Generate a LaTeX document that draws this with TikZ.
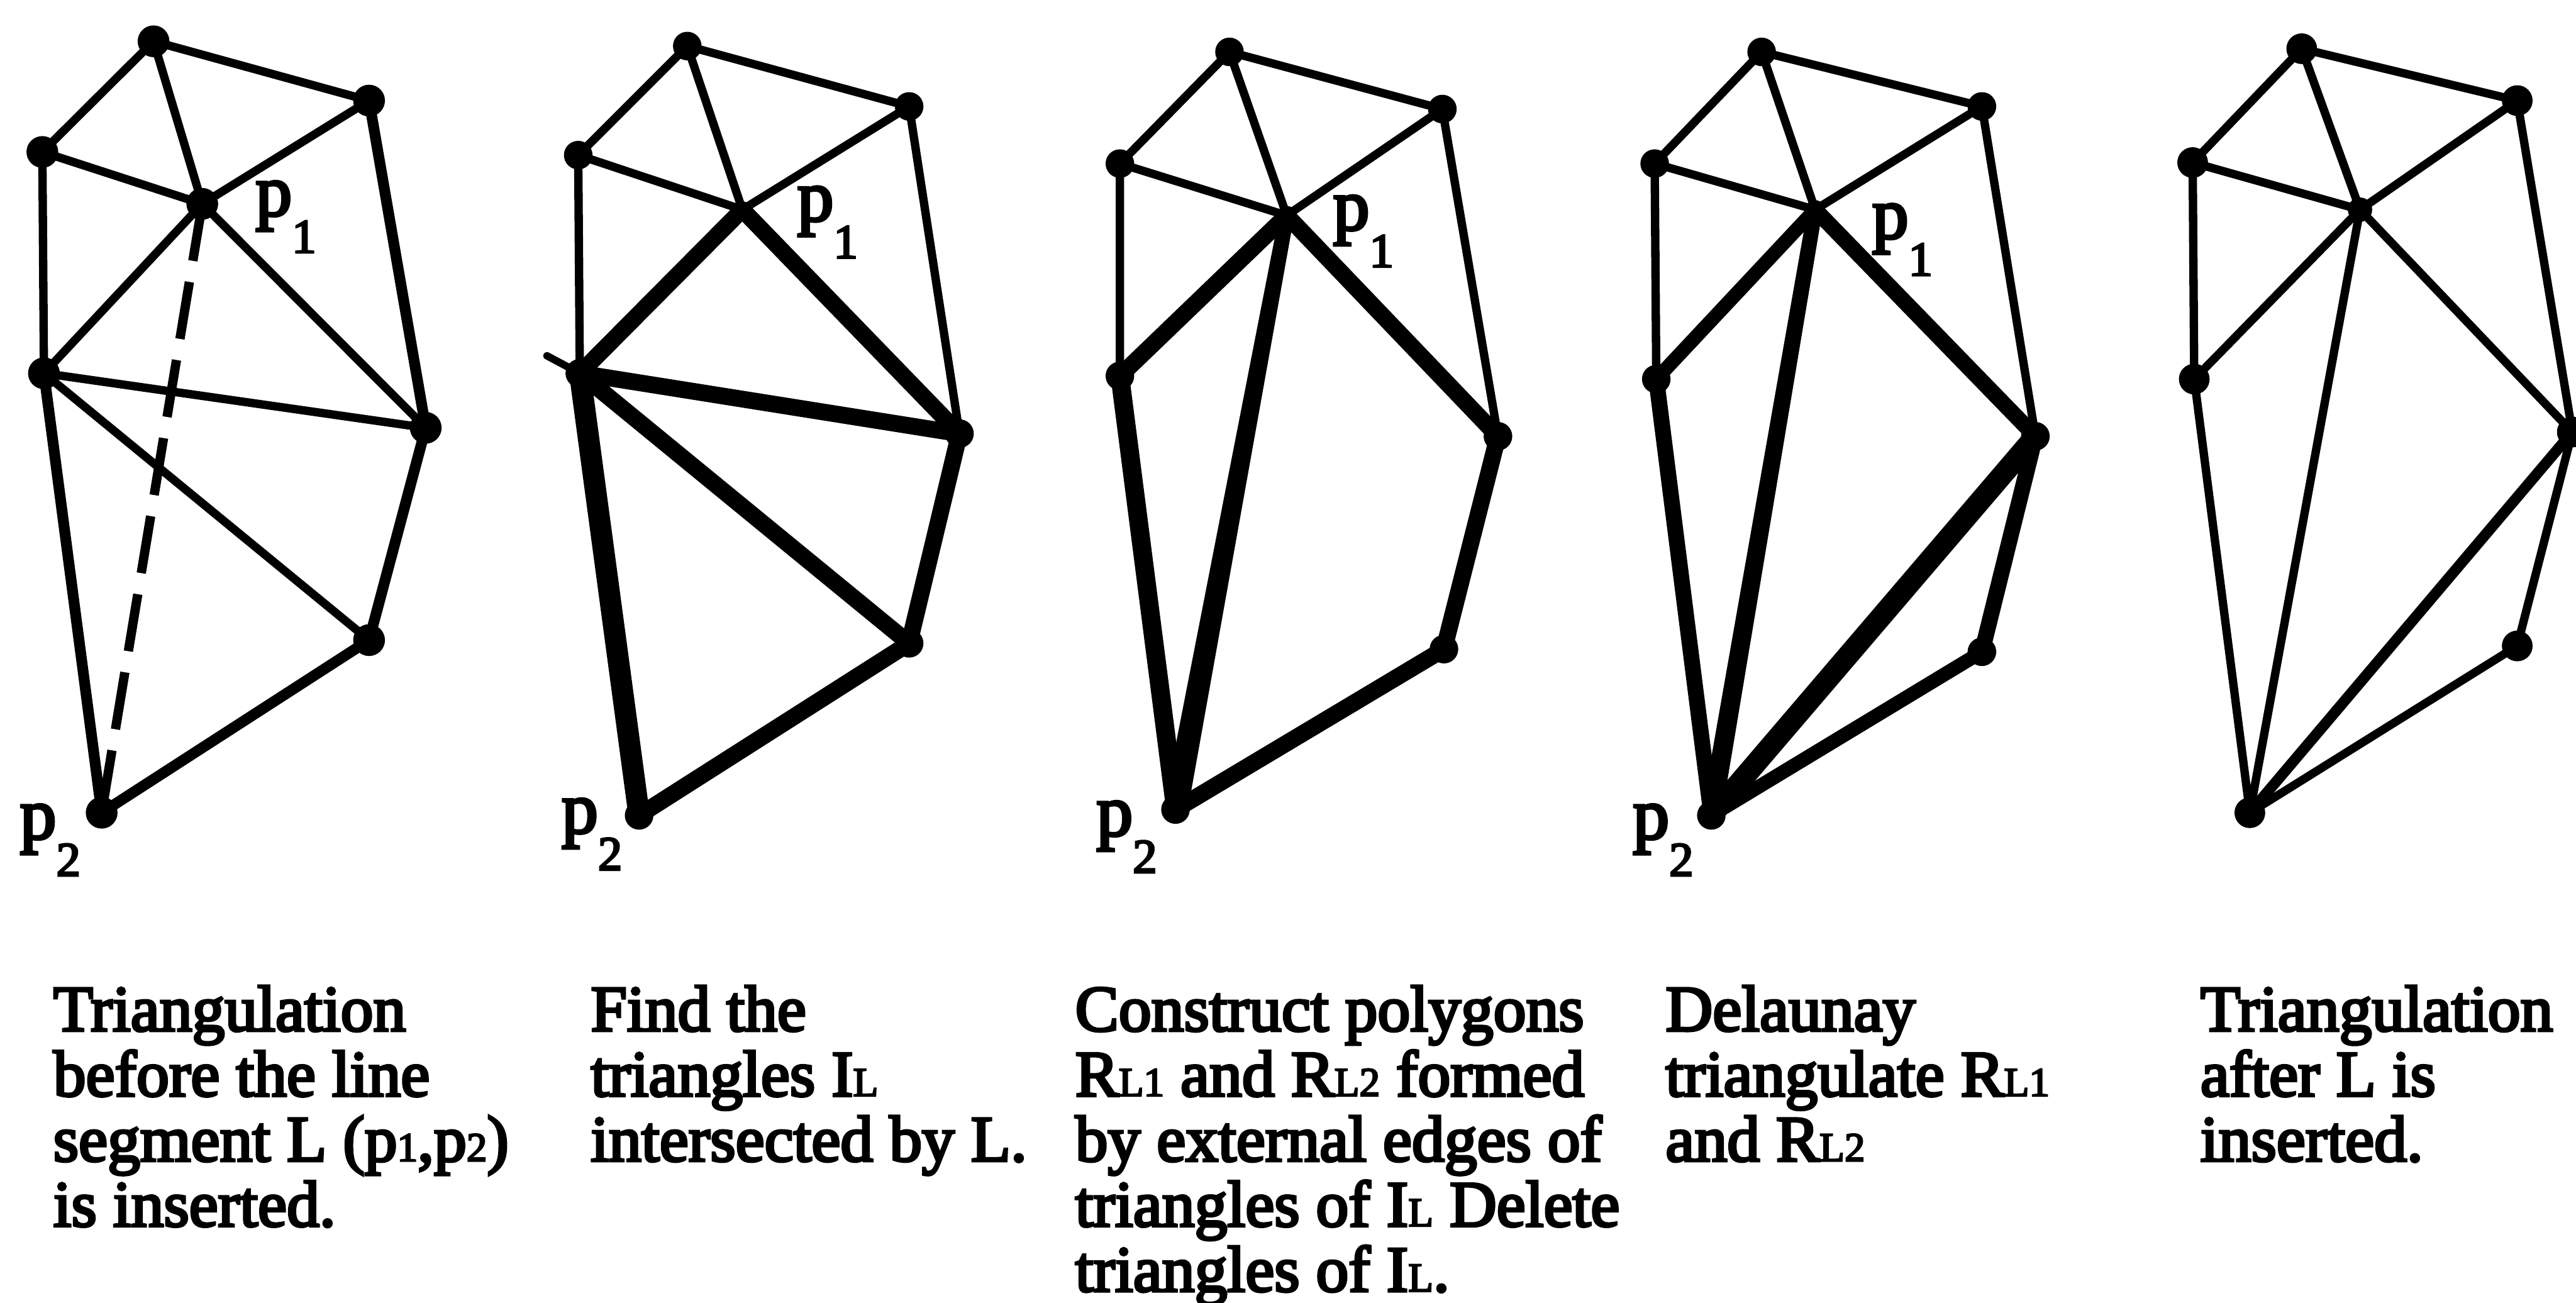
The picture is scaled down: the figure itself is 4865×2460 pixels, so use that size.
\documentclass[tikz,border=0pt]{standalone}
\usepackage{fontspec}
\usetikzlibrary{calc}
\setmainfont{Liberation Serif}
\newfontfamily\capfont{Liberation Serif}[FakeBold=4]
\newcommand\smc[1]{{\fontsize{22pt}{22pt}\selectfont #1}}
\newcommand\plab[2]{#1\raisebox{-20pt}{\fontsize{26pt}{26pt}\selectfont #2}}
\begin{document}
\begin{tikzpicture}[x=0.01cm,y=-0.01cm,
  ethin/.style={line width=4.5pt,line cap=round},
  emed/.style={line width=5.8pt,line cap=round},
  ethick/.style={line width=9pt,line cap=round},
  evthick/.style={line width=11.5pt,line cap=round},
  edash/.style={line width=5pt,dash pattern=on 31pt off 11.5pt},
  captxt/.style={anchor=base west,inner sep=0pt,font=\capfont\fontsize{35pt}{35pt}\selectfont},
  plabel/.style={anchor=base west,inner sep=0pt,font=\capfont\fontsize{39pt}{39pt}\selectfont}]
\useasboundingbox (0,0) rectangle (4865,2460);

% ---------- panel 1 ----------
\coordinate (P1A) at (290,78);
\coordinate (P1B) at (697,190);
\coordinate (P1C) at (80,287);
\coordinate (P1D) at (382,385);
\coordinate (P1E) at (83,705);
\coordinate (P1F) at (804,808);
\coordinate (P1G) at (697,1209);
\coordinate (P1H) at (192,1535);
\draw[ethin] (P1A)--(P1C) (P1A)--(P1B) (P1A)--(P1D) (P1C)--(P1D) (P1B)--(P1D)
  (P1C)--(P1E) (P1D)--(P1E) (P1D)--(P1F) (P1E)--(P1F) (P1E)--(P1G);
\draw[emed] (P1B)--(P1F) (P1F)--(P1G) (P1G)--(P1H) (P1E)--(P1H);
\draw[edash] (P1D)--(P1H);
\foreach \v in {A,B,C,D,E,F,G,H} \fill (P1\v) circle[radius=30];
\node[plabel] (L1p1) at (482,407) {\plab{p}{1}};
\node[plabel] (L1p2) at (37,1584) {\plab{p}{2}};

% ---------- panel 2 ----------
\coordinate (P2A) at (1298,87);
\coordinate (P2B) at (1717,201);
\coordinate (P2C) at (1092,293);
\coordinate (P2D) at (1402,396);
\coordinate (P2E) at (1095,705);
\coordinate (P2F) at (1812,819);
\coordinate (P2G) at (1717,1215);
\coordinate (P2H) at (1207,1540);
\coordinate (P2S) at (1033,672);
\draw[ethin] (P2A)--(P2C) (P2A)--(P2B) (P2A)--(P2D) (P2C)--(P2D) (P2B)--(P2D)
  (P2C)--(P2E) (P2B)--(P2F);
\draw[ethick] (P2D)--(P2E) (P2D)--(P2F) (P2E)--(P2F) (P2E)--(P2G) (P2F)--(P2G) (P2G)--(P2H);
\draw[evthick] (P2E)--(P2H);
\draw[line width=4pt,line cap=round] (P2S)--(P2E);
\foreach \v in {A,B,C,E,F,G,H} \fill (P2\v) circle[radius=27];
\node[plabel] (L2p1) at (1505,417) {\plab{p}{1}};
\node[plabel] (L2p2) at (1060,1573) {\plab{p}{2}};

% ---------- panel 3 ----------
\coordinate (P3A) at (2322,98);
\coordinate (P3B) at (2724,206);
\coordinate (P3C) at (2115,309);
\coordinate (P3D) at (2430,407);
\coordinate (P3E) at (2115,710);
\coordinate (P3F) at (2829,824);
\coordinate (P3G) at (2727,1226);
\coordinate (P3H) at (2220,1529);
\draw[ethin] (P3A)--(P3C) (P3A)--(P3B) (P3A)--(P3D) (P3C)--(P3D) (P3B)--(P3D)
  (P3C)--(P3E) (P3B)--(P3F);
\draw[ethick] (P3D)--(P3E) (P3D)--(P3F) (P3F)--(P3G) (P3G)--(P3H);
\draw[line width=10pt,line cap=round] (P3E)--(P3H);
\fill ($(P3D)!0.14cm!90:(P3H)$) -- ($(P3D)!0.14cm!-90:(P3H)$)
  -- ($(P3H)!0.23cm!90:(P3D)$) -- ($(P3H)!0.23cm!-90:(P3D)$) -- cycle;
\foreach \v in {A,B,C,E,F,G,H} \fill (P3\v) circle[radius=27];
\fill (P3D) circle[radius=18];
\node[plabel] (L3p1) at (2517,434) {\plab{p}{1}};
\node[plabel] (L3p2) at (2070,1578) {\plab{p}{2}};

% ---------- panel 4 ----------
\coordinate (P4A) at (3327,98);
\coordinate (P4B) at (3743,201);
\coordinate (P4C) at (3125,309);
\coordinate (P4D) at (3428,396);
\coordinate (P4E) at (3128,716);
\coordinate (P4F) at (3844,824);
\coordinate (P4G) at (3743,1231);
\coordinate (P4H) at (3232,1540);
\draw[ethin] (P4A)--(P4C) (P4A)--(P4B) (P4A)--(P4D) (P4C)--(P4D) (P4B)--(P4D)
  (P4C)--(P4E) (P4B)--(P4F);
\draw[line width=7.5pt,line cap=round] (P4D)--(P4E) (P4G)--(P4H);
\draw[line width=8.5pt,line cap=round] (P4D)--(P4F) (P4E)--(P4H) (P4F)--(P4G);
\fill ($(P4D)!0.14cm!90:(P4H)$) -- ($(P4D)!0.14cm!-90:(P4H)$)
  -- ($(P4H)!0.19cm!90:(P4D)$) -- ($(P4H)!0.19cm!-90:(P4D)$) -- cycle;
\draw[evthick] (P4F)--(P4H);
\foreach \v in {A,B,C,E,F,G,H} \fill (P4\v) circle[radius=27];
\fill (P4D) circle[radius=18];
\node[plabel] (L4p1) at (3535,450) {\plab{p}{1}};
\node[plabel] (L4p2) at (3083,1584) {\plab{p}{2}};

% ---------- panel 5 ----------
\coordinate (P5A) at (4347,92);
\coordinate (P5B) at (4754,190);
\coordinate (P5C) at (4141,307);
\coordinate (P5D) at (4457,396);
\coordinate (P5E) at (4144,716);
\coordinate (P5F) at (4858,816);
\coordinate (P5G) at (4754,1220);
\coordinate (P5H) at (4249,1535);
\draw[ethin] (P5A)--(P5C) (P5A)--(P5B) (P5A)--(P5D) (P5C)--(P5D) (P5B)--(P5D)
  (P5C)--(P5E) (P5D)--(P5E) (P5D)--(P5H) (P5D)--(P5F) (P5B)--(P5F)
  (P5E)--(P5H) (P5F)--(P5G) (P5G)--(P5H);
\draw[emed] (P5F)--(P5H);
\foreach \v in {A,B,C,E,F,G,H} \fill (P5\v) circle[radius=29];
\fill (P5D) circle[radius=23];

% ---------- captions ----------
\foreach \t [count=\i from 0] in {Triangulation, before the line, {segment L (p\smc{1},p\smc{2})}, is inserted.}
  \node[captxt] (c1-\i) at (100,{1947+123*\i}) {\t};
\foreach \t [count=\i from 0] in {Find the, {triangles I\smc{L}}, intersected by L.}
  \node[captxt] (c2-\i) at (1115,{1947+123*\i}) {\t};
\foreach \t [count=\i from 0] in {Construct polygons, {R\smc{L1} and R\smc{L2} formed}, by external edges of, {triangles of I\smc{L} Delete}, {triangles of I\smc{L}.}}
  \node[captxt] (c3-\i) at (2030,{1947+123*\i}) {\t};
\foreach \t [count=\i from 0] in {Delaunay, {triangulate R\smc{L1}}, {and R\smc{L2}}}
  \node[captxt] (c4-\i) at (3145,{1947+123*\i}) {\t};
\foreach \t [count=\i from 0] in {Triangulation, after L is, inserted.}
  \node[captxt] (c5-\i) at (4155,{1947+123*\i}) {\t};
\end{tikzpicture}
\end{document}
